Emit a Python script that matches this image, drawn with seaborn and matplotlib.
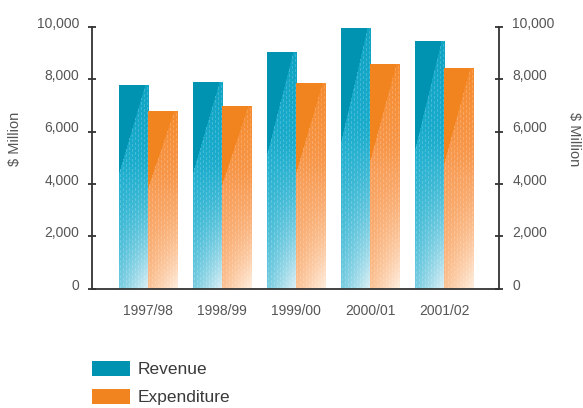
import numpy as np
import pandas as pd
import matplotlib
matplotlib.use("Agg")
import matplotlib.pyplot as plt
import matplotlib.colors as mcolors
import matplotlib.transforms as mtransforms
from matplotlib.patches import Patch
import seaborn as sns

# ---- data -------------------------------------------------------------
years = ["1997/98", "1998/99", "1999/00", "2000/01", "2001/02"]
revenue = [7800, 7900, 9050, 9950, 9450]
expenditure = [6800, 7000, 7850, 8600, 8450]
series_names = ["Revenue", "Expenditure"]
y_ticks = [0, 2000, 4000, 6000, 8000, 10000]

# ---- styling ----------------------------------------------------------
solid = {"Revenue": "#0092b1", "Expenditure": "#f28420"}
shade_top = {"Revenue": "#0fa3c4", "Expenditure": "#f58a2c"}
shade_mid = {"Revenue": "#1fafcf", "Expenditure": "#f89c55"}
shade_pale = {"Revenue": "#dff0f6", "Expenditure": "#ffeedf"}
axis_col = "#333333"
text_col = "#555555"

df = pd.DataFrame({
    "Year": years * 2,
    "Series": [series_names[0]] * len(years) + [series_names[1]] * len(years),
    "Value": revenue + expenditure,
})

sns.set_style("white")
plt.rcParams["font.family"] = ["Liberation Sans", "DejaVu Sans"]

fig = plt.figure(figsize=(5.83, 4.08), dpi=100)
ax = fig.add_axes([0.158, 0.292, 0.698, 0.642])

sns.barplot(data=df, x="Year", y="Value", hue="Series", order=years,
            hue_order=series_names, palette=solid, saturation=1,
            linewidth=0, errorbar=None, legend=False, ax=ax, zorder=2)

xlim = (-0.76, 4.74)
ylim = (0, 10000)
ax.set_xlim(*xlim)
ax.set_ylim(*ylim)


def bar_texture(nx, ny, solid_rgb, top_rgb, mid_rgb, pale_rgb):
    """Solid wedge at the top, fading dashed shading below it."""
    yy, xx = np.mgrid[0:ny, 0:nx]
    u = xx / max(nx - 1, 1)
    v = yy / max(ny - 1, 1)
    top, mid, pale = (np.asarray(c) for c in (top_rgb, mid_rgb, pale_rgb))
    # vertical blend top -> mid over the upper half
    a = np.clip(v / 0.5, 0, 1)[..., None]
    img = top * (1 - a) + mid * a
    # fade towards pale in the lower part, stronger on the right
    t = np.clip(((v - 0.35) / 0.65), 0, 1) ** 1.5 * (0.45 + 0.55 * u)
    t = t[..., None]
    img = img * (1 - t) + pale * t
    # small staggered vertical dashes
    col = (xx % 3) == 1
    phase = (yy + 2 * ((xx // 3) % 2)) % 5
    dash = col & (phase < 3)
    img[dash] = img[dash] * 0.82 + 0.18
    # diagonal solid wedge
    depth = 0.43 * ny
    edge = (nx - 4) * (1 - yy / depth)
    img[xx < edge] = solid_rgb
    return img


fig.canvas.draw()
for name, container in zip(series_names, ax.containers):
    for bar in container:
        x0, w, h = bar.get_x(), bar.get_width(), bar.get_height()
        p0 = ax.transData.transform((x0, 0))
        p1 = ax.transData.transform((x0 + w, h))
        nx = max(int(round(p1[0] - p0[0])), 2)
        ny = max(int(round(p1[1] - p0[1])), 2)
        img = bar_texture(nx, ny, mcolors.to_rgb(solid[name]),
                          mcolors.to_rgb(shade_top[name]),
                          mcolors.to_rgb(shade_mid[name]),
                          mcolors.to_rgb(shade_pale[name]))
        im = ax.imshow(img, extent=[x0, x0 + w, 0, h], origin="upper",
                       aspect="auto", interpolation="nearest", zorder=3)
        im.set_clip_path(bar)

ax.set_xlim(*xlim)
ax.set_ylim(*ylim)

# ---- axes ---------------------------------------------------------------
ax.spines["top"].set_visible(False)
for side in ("left", "right", "bottom"):
    ax.spines[side].set_visible(True)
    ax.spines[side].set_color(axis_col)
    ax.spines[side].set_linewidth(1.3)
    ax.spines[side].set_zorder(5)

ax.set_yticks(y_ticks)
ax.set_yticklabels([f"{v:,}" for v in y_ticks])
ax.tick_params(axis="y", which="both", direction="inout", length=6, width=1.3,
               color=axis_col, labelsize=10, labelcolor=text_col,
               left=True, right=True, labelleft=True, labelright=True, pad=6.5)
ax.tick_params(axis="x", length=0, labelsize=10, labelcolor=text_col, pad=11)
ax.set_xlabel("")
ax.set_ylabel("")
ax.grid(False)

# y tick labels sit slightly above their tick marks
shift = mtransforms.ScaledTranslation(0, 3.5 / 72, fig.dpi_scale_trans)
for tick in ax.yaxis.get_major_ticks():
    tick.label1.set_transform(tick.label1.get_transform() + shift)
    tick.label2.set_transform(tick.label2.get_transform() + shift)

fig.text(15 / 583, 1 - 139 / 408, "$ Million", rotation=90, ha="center",
         va="center", fontsize=10.5, color=text_col)
fig.text(574 / 583, 1 - 139 / 408, "$ Million", rotation=270, ha="center",
         va="center", fontsize=10.5, color=text_col)

# ---- legend -------------------------------------------------------------
handles = [Patch(facecolor=solid[n], edgecolor="none", label=n) for n in series_names]
fig.legend(handles=handles, loc="upper left",
           bbox_to_anchor=(92 / 583, 1 - 361 / 408), frameon=False,
           fontsize=12.5, borderpad=0, borderaxespad=0,
           handlelength=2.2, handleheight=0.95, handletextpad=0.42,
           labelspacing=0.65, labelcolor="#3a3a3a")

fig.savefig("out.png", dpi=100)
